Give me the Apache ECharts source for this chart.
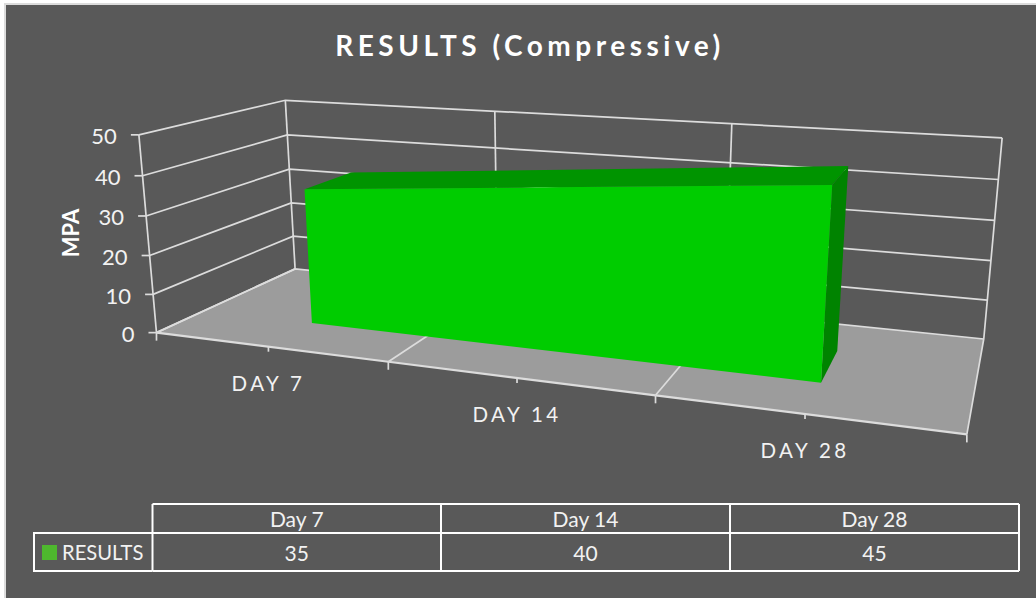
<!DOCTYPE html>
<html>
<head>
<meta charset="utf-8">
<title>RESULTS (Compressive)</title>
<script src="https://cdn.jsdelivr.net/npm/echarts@6/dist/echarts.min.js"></script>
<style>
  html, body { margin: 0; padding: 0; background: #fff; }
  #main { width: 1036px; height: 598px; }
  /* echarts has no letter spacing option, so the svg text gets it here */
  text[style*="28px"] { letter-spacing: 4.5px; }
  text[style*="20.5px"] { letter-spacing: 3.4px; }
</style>
</head>
<body>
<div id="main"></div>
<script>
const categories = ["Day 7", "Day 14", "Day 28"];
const axisCategories = ["DAY 7", "DAY 14", "DAY 28"];
const seriesName = "RESULTS";
const results = [35, 40, 45];
const yTicks = [0, 10, 20, 30, 40, 50];

const WIDTH = 1036;
const HEIGHT = 598;
const Y_MAX = 50;
const LINE = "#dcdcdc";
const TEXT = "#f2f2f2";
const FONT = "Lato";

// 透视相机的标定点: [x, 深度, y比例, 屏幕x, 屏幕y]
const cameraAnchors = [
  [0, 0, 0, 157, 333],
  [1, 0, 0, 388, 361],
  [2, 0, 0, 655, 397],
  [3, 0, 0, 967, 434],
  [0, 1, 0, 295, 269],
  [3, 1, 0, 984, 338],
  [0, 0, 1, 139, 134],
  [0, 1, 1, 285, 100],
  [1, 1, 1, 495, 112],
  [2, 1, 1, 732, 124],
  [3, 1, 1, 1002, 138]
];
const AREA_FRONT = 0.31;
const AREA_BACK = 0.67;

// 最小二乘解 3x4 投影矩阵
function fitCamera(anchors) {
  const n = 11;
  const m = [];
  for (let i = 0; i < n; i++) m.push(new Array(n + 1).fill(0));
  const addRow = (row, rhs) => {
    for (let i = 0; i < n; i++) {
      for (let j = 0; j < n; j++) m[i][j] += row[i] * row[j];
      m[i][n] += row[i] * rhs;
    }
  };
  anchors.forEach(([x, d, z, sx, sy]) => {
    const u = sx / 1000;
    const v = sy / 1000;
    addRow([x, d, z, 1, 0, 0, 0, 0, -u * x, -u * d, -u * z], u);
    addRow([0, 0, 0, 0, x, d, z, 1, -v * x, -v * d, -v * z], v);
  });
  for (let c = 0; c < n; c++) {
    let pivot = c;
    for (let r = c + 1; r < n; r++) {
      if (Math.abs(m[r][c]) > Math.abs(m[pivot][c])) pivot = r;
    }
    [m[c], m[pivot]] = [m[pivot], m[c]];
    for (let r = 0; r < n; r++) {
      if (r === c) continue;
      const f = m[r][c] / m[c][c];
      for (let k = c; k <= n; k++) m[r][k] -= f * m[c][k];
    }
  }
  return m.map((row, i) => row[n] / row[i]);
}

const cam = fitCamera(cameraAnchors);

function project3d(x, d, z) {
  const w = cam[8] * x + cam[9] * d + cam[10] * z + 1;
  return [
    (1000 * (cam[0] * x + cam[1] * d + cam[2] * z + cam[3])) / w,
    (1000 * (cam[4] * x + cam[5] * d + cam[6] * z + cam[7])) / w
  ];
}

// 数值先走隐藏坐标轴的比例尺, 再投影到透视平面
function toScreen(api, xValue, yValue, depth) {
  const c = api.coord([xValue, yValue]);
  const x = (c[0] / WIDTH) * categories.length;
  const z = 1 - c[1] / HEIGHT;
  return project3d(x, depth, z);
}

function line(points, width, color) {
  return {
    type: "polyline",
    shape: { points: points },
    style: { stroke: color || LINE, lineWidth: width || 1.7, fill: null }
  };
}

function label(text, x, y, font, align) {
  return {
    type: "text",
    style: {
      text: text,
      x: x,
      y: y,
      fill: TEXT,
      font: font,
      align: align || "center",
      verticalAlign: "middle"
    }
  };
}

function renderFloor(params, api) {
  const n = categories.length;
  return {
    type: "polygon",
    shape: {
      points: [
        toScreen(api, 0, 0, 0),
        toScreen(api, n, 0, 0),
        toScreen(api, n, 0, 1),
        toScreen(api, 0, 0, 1)
      ]
    },
    style: { fill: "#9c9c9c" }
  };
}

// 网格线和 y 轴刻度
function renderYTick(params, api) {
  const n = categories.length;
  const v = api.value(0);
  const front = toScreen(api, 0, v, 0);
  return {
    type: "group",
    children: [
      line([front, toScreen(api, 0, v, 1), toScreen(api, n, v, 1)]),
      line([[front[0] - 8, front[1]], front]),
      label(String(v), front[0] - 22, front[1] + 1, "22px " + FONT, "right")
    ]
  };
}

function renderCategory(params, api) {
  const i = api.value(0);
  const n = categories.length;
  const center = toScreen(api, i + 0.5, 0, 0);
  const left = toScreen(api, i, 0, 0);
  const right = toScreen(api, i + 1, 0, 0);
  const children = [
    line([center, [center[0], center[1] + 5]]),
    line([left, [left[0], left[1] + 8]]),
    label(axisCategories[i], center[0], center[1] + 36, "20.5px " + FONT)
  ];
  // 竖直网格线和底面分隔线
  children.push(line([toScreen(api, i, 0, 1), toScreen(api, i, Y_MAX, 1)]));
  if (i > 0) {
    children.push(line([left, toScreen(api, i, 0, 1)]));
  } else {
    children.push(line([left, toScreen(api, 0, Y_MAX, 0)]));
    children.push(line([left, toScreen(api, 0, 0, 1)]));
  }
  if (i === n - 1) {
    children.push(line([right, [right[0], right[1] + 8]]));
    children.push(line([right, toScreen(api, n, 0, 1), toScreen(api, n, Y_MAX, 1)]));
  }
  children.push(line([left, right], 2.2));
  return { type: "group", children: children };
}

function renderArea(params, api) {
  if (params.dataIndex !== 0) return null;
  const n = results.length;
  const top = (i, d) => toScreen(api, i + 0.5, api.value(1, i), d);
  const base = (i, d) => toScreen(api, i + 0.5, 0, d);
  const frontFace = [];
  const topFace = [];
  for (let i = 0; i < n; i++) {
    frontFace.push(top(i, AREA_FRONT));
    topFace.push(top(i, AREA_FRONT));
  }
  frontFace.push(base(n - 1, AREA_FRONT), base(0, AREA_FRONT));
  for (let i = n - 1; i >= 0; i--) topFace.push(top(i, AREA_BACK));
  const side = [
    top(n - 1, AREA_FRONT),
    top(n - 1, AREA_BACK),
    base(n - 1, AREA_BACK),
    base(n - 1, AREA_FRONT)
  ];
  return {
    type: "group",
    children: [
      { type: "polygon", shape: { points: topFace }, style: { fill: "#009400" } },
      { type: "polygon", shape: { points: side }, style: { fill: "#008300" } },
      { type: "polygon", shape: { points: frontFace }, style: { fill: "#00cc00" } }
    ]
  };
}

// 底部数据表
const tableCols = [152.5, 441, 730, 1019];
const tableRows = [504, 533, 571];
const tableLeft = 34;
const TABLE_LINE = 2;

function renderTableColumn(params, api) {
  const i = api.value(0);
  const x0 = tableCols[i];
  const x1 = tableCols[i + 1];
  const cx = (x0 + x1) / 2;
  const children = [
    line([[x0, tableRows[0]], [x0, tableRows[2]]], TABLE_LINE, "#fff"),
    line([[x1, tableRows[0]], [x1, tableRows[2]]], TABLE_LINE, "#fff"),
    line([[x0, tableRows[0]], [x1, tableRows[0]]], TABLE_LINE, "#fff"),
    line([[x0, tableRows[1]], [x1, tableRows[1]]], TABLE_LINE, "#fff"),
    line([[x0, tableRows[2]], [x1, tableRows[2]]], TABLE_LINE, "#fff"),
    label(categories[i], cx, 518, "21px " + FONT),
    label(String(api.value(1)), cx, 552, "21px " + FONT)
  ];
  return { type: "group", children: children };
}

function renderTableKey() {
  return {
    type: "group",
    children: [
      line([
        [tableCols[0], tableRows[1]],
        [tableLeft, tableRows[1]],
        [tableLeft, tableRows[2]],
        [tableCols[0], tableRows[2]]
      ], TABLE_LINE, "#fff"),
      { type: "rect", shape: { x: 42, y: 545, width: 15, height: 15 }, style: { fill: "#4eb82e" } },
      label(seriesName, 62, 552, "20.2px " + FONT, "left")
    ]
  };
}

const chart = echarts.init(document.getElementById("main"), null, { renderer: "svg" });

const option = {
  animation: false,
  backgroundColor: "#fff",
  title: {
    text: "RESULTS (Compressive)",
    left: 525,
    top: 26,
    textAlign: "center",
    textStyle: { color: "#fff", fontFamily: FONT, fontWeight: "bold", fontSize: 28 }
  },
  graphic: [
    {
      type: "rect",
      z: -10,
      shape: { x: 5, y: 4, width: 1100, height: 700 },
      style: { fill: "#595959", stroke: LINE, lineWidth: 2 }
    },
    {
      type: "text",
      rotation: Math.PI / 2,
      x: 70,
      y: 233,
      style: {
        text: "MPA",
        fill: "#fff",
        font: "bold 22px " + FONT,
        align: "center",
        verticalAlign: "middle"
      }
    }
  ],
  grid: { left: 0, right: 0, top: 0, bottom: 0, show: false },
  xAxis: { type: "value", min: 0, max: categories.length, show: false },
  yAxis: { type: "value", min: 0, max: Y_MAX, interval: 10, show: false },
  series: [
    { type: "custom", silent: true, clip: false, z: 1, coordinateSystem: "cartesian2d", encode: { x: 0, y: 1 }, data: [[0, 0]], renderItem: renderFloor },
    { type: "custom", silent: true, clip: false, z: 2, coordinateSystem: "cartesian2d", encode: { x: 0, y: 1 }, data: yTicks.map((v) => [v, v]), renderItem: renderYTick },
    { type: "custom", silent: true, clip: false, z: 2, coordinateSystem: "cartesian2d", encode: { x: 0, y: 1 }, data: categories.map((c, i) => [i, 0]), renderItem: renderCategory },
    { type: "custom", name: seriesName, silent: true, clip: false, z: 3, coordinateSystem: "cartesian2d", encode: { x: 0, y: 1 }, data: results.map((v, i) => [i + 0.5, v]), renderItem: renderArea },
    { type: "custom", silent: true, clip: false, z: 4, coordinateSystem: "none", data: results.map((v, i) => [i, v]), renderItem: renderTableColumn },
    { type: "custom", silent: true, clip: false, z: 4, coordinateSystem: "none", data: [[0]], renderItem: renderTableKey }
  ]
};

chart.setOption(option);
</script>
</body>
</html>
